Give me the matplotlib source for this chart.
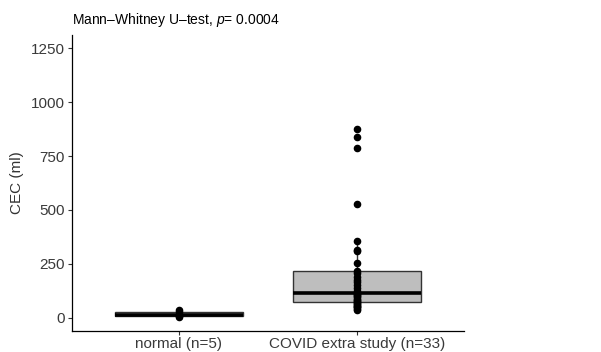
import numpy as np
import matplotlib
matplotlib.use("Agg")
import matplotlib.pyplot as plt

# data
groups = ["normal (n=5)", "COVID extra study (n=33)"]
normal = [2, 5, 10, 25, 35]
covid = [36, 42, 48, 51, 55, 60, 64, 67,
         72, 75, 82, 88, 95, 98, 105, 110,
         113, 121, 137, 152, 163, 175, 190, 205,
         214, 253, 307, 315, 354, 528, 787, 840, 877]
yticks = [0, 250, 500, 750, 1000, 1250]
title = "Mann\u2013Whitney U\u2013test, $p$= 0.0004"

plt.rcParams["font.family"] = ["Liberation Sans", "DejaVu Sans"]
plt.rcParams["mathtext.fontset"] = "custom"
plt.rcParams["mathtext.it"] = "Liberation Sans:italic"
plt.rcParams["mathtext.rm"] = "Liberation Sans"

fig = plt.figure(figsize=(6.01, 3.52), dpi=100)
ax = fig.add_axes([72 / 601, 21 / 352, 392 / 601, 296 / 352])

data = [normal, covid]
pos = np.arange(1, len(groups) + 1)
ax.boxplot(data, positions=pos, widths=0.72, patch_artist=True,
           showfliers=False, whis=1.5,
           boxprops=dict(facecolor="#bebebe", edgecolor="#333333", linewidth=1.0),
           medianprops=dict(color="black", linewidth=2.6),
           whiskerprops=dict(color="#333333", linewidth=1.0),
           capprops=dict(linewidth=0))

for p, vals in zip(pos, data):
    ax.scatter(np.full(len(vals), p), vals, s=20, color="black", zorder=3)

ax.set_xlim(0.4, 2.6)
ax.set_ylim(-62.5, 1312.5)
ax.set_yticks(yticks)
ax.set_xticks(pos)
ax.set_xticklabels(groups)

for s in ["top", "right"]:
    ax.spines[s].set_visible(False)
for s in ["left", "bottom"]:
    ax.spines[s].set_linewidth(0.9)
    ax.spines[s].set_color("black")
ax.tick_params(length=3, width=0.8, color="#333333", labelcolor="#3a3a3a",
               labelsize=11, pad=2)
ax.tick_params(axis="x", pad=1.5)
ax.set_ylabel("CEC (ml)", fontsize=11, color="#333333", labelpad=5)
ax.set_title(title, loc="left", fontsize=10, pad=8)

fig.savefig("out.png", dpi=100)
